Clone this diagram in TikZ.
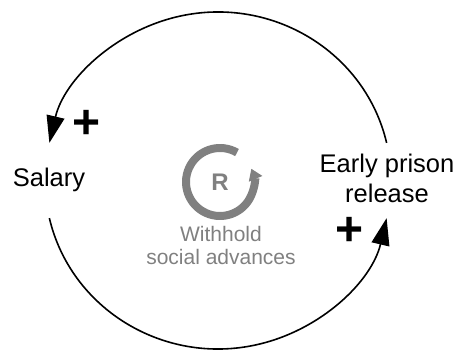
\documentclass[tikz,border=0pt]{standalone}
\usepackage{fontspec}
\setmainfont{Liberation Sans}
\usetikzlibrary{arrows.meta}
\definecolor{loopgray}{RGB}{128,128,128}
\tikzset{
  link/.style={line width=1.6pt, -{Triangle[length=27pt,width=18pt]}},
  polarity/.style={font=\fontsize{48}{48}\selectfont\bfseries, inner sep=0pt},
  varname/.style={font=\fontsize{25.5}{30}\selectfont, align=center},
  loopline/.style={loopgray, line width=8pt, -{Triangle[length=11pt,width=14pt]}},
  looplabel/.style={loopgray, font=\fontsize{21}{23}\selectfont, align=center},
}
\begin{document}
\begin{tikzpicture}[x=1pt, y=1pt]
  \useasboundingbox (0,0) rectangle (459,351);
  \coordinate (c) at (218,170.5);
  \node[varname] (salary) at (49,171) {Salary};
  \node[varname] (release) at (387,173) {Early prison\\release};
  % the two links of the loop
  \coordinate (relout) at ([shift={(12.9:173 and 168.5)}]c);
  \coordinate (salout) at ([shift={(192.9:173 and 168.5)}]c);
  \draw[link] (relout) arc[start angle=12.9, end angle=167.1, x radius=173, y radius=168.5];
  \draw[link] (salout) arc[start angle=192.9, end angle=347.1, x radius=173, y radius=168.5];
  \node[polarity] (plusa) at (87,227) {+};
  \node[polarity] (plusb) at (350,120) {+};
  % loop marker
  \node[loopgray, font=\fontsize{24}{24}\selectfont\bfseries] (loop) at (220,169) {R};
  \draw[loopline] ([shift={(60:34)}]loop.center) arc[start angle=60, end angle=383, radius=34];
  \node[looplabel] (loopname) at (221,106) {Withhold\\social advances};
\end{tikzpicture}
\end{document}
